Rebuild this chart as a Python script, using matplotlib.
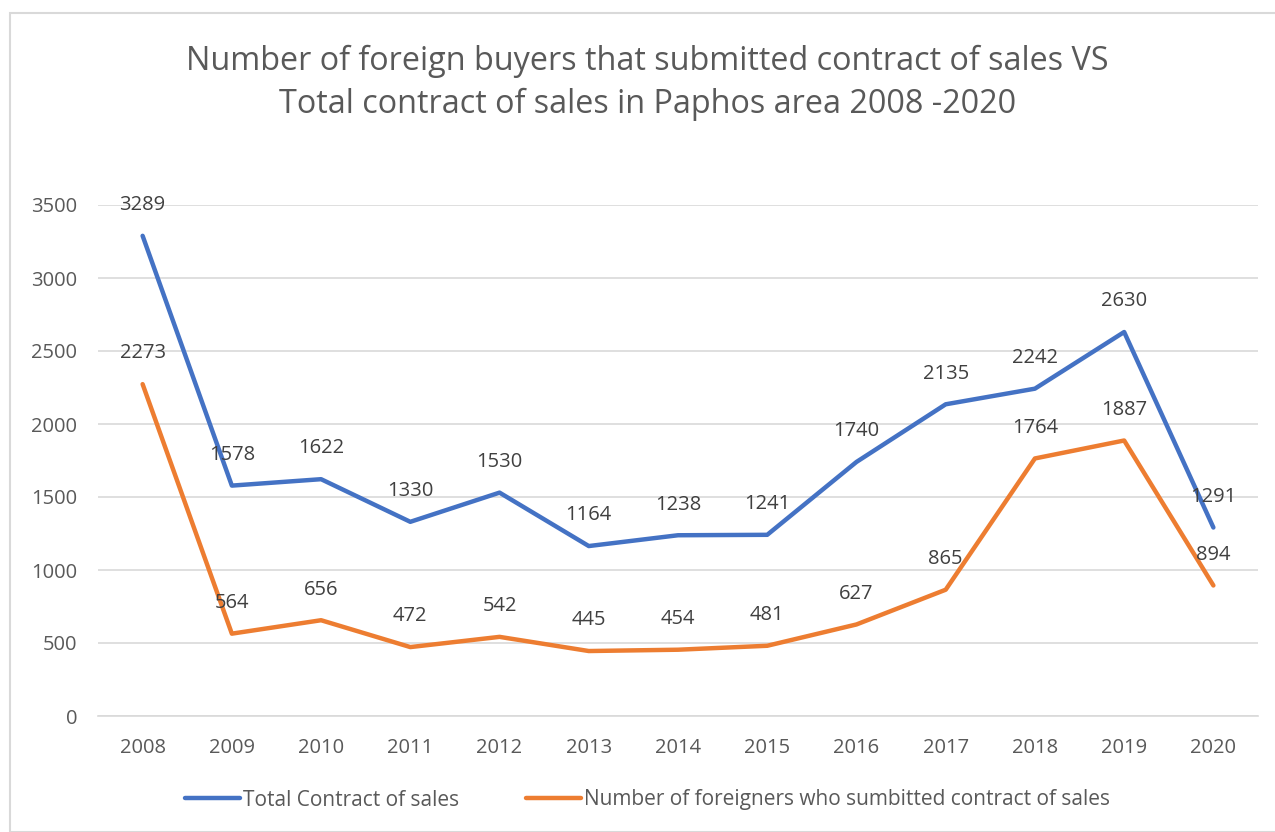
import matplotlib.pyplot as plt
from matplotlib.patches import Rectangle

years = ['2008', '2009', '2010', '2011', '2012', '2013', '2014',
         '2015', '2016', '2017', '2018', '2019', '2020']
total_sales = [3289, 1578, 1622, 1330, 1530, 1164, 1238, 1241, 1740, 2135, 2242, 2630, 1291]
foreign_sales = [2273, 564, 656, 472, 542, 445, 454, 481, 627, 865, 1764, 1887, 894]
yticks = [0, 500, 1000, 1500, 2000, 2500, 3000, 3500]

plt.rcParams['font.family'] = ['Open Sans', 'DejaVu Sans']

fig = plt.figure(figsize=(12.75, 8.32), dpi=100)
ax = fig.add_axes([98 / 1275, 1 - 716 / 832, (1258 - 98) / 1275, (716 - 205) / 832])

x = list(range(len(years)))
l1, = ax.plot(x, total_sales, color='#4472C4', lw=3.2, solid_capstyle='round', solid_joinstyle='round',
              label='Total Contract of sales')
l2, = ax.plot(x, foreign_sales, color='#ED7D31', lw=3.2, solid_capstyle='round', solid_joinstyle='round',
              label='Number of foreigners who sumbitted contract of sales')

# data labels above each point
for xi, v in zip(x, total_sales):
    ax.annotate(str(v), (xi, v), xytext=(0, 18.5), textcoords='offset points',
                ha='center', va='baseline', fontsize=14.5, color='#404040')
for xi, v in zip(x, foreign_sales):
    ax.annotate(str(v), (xi, v), xytext=(0, 18.5), textcoords='offset points',
                ha='center', va='baseline', fontsize=14.5, color='#404040')

ax.set_xlim(-0.5, len(years) - 0.5)
ax.set_ylim(0, 3500)
ax.set_yticks(yticks)
ax.set_xticks(x)
ax.set_xticklabels(years)
ax.grid(axis='y', color='#d9d9d9', lw=1.2)
ax.set_axisbelow(True)
for s in ['left', 'right', 'top']:
    ax.spines[s].set_visible(False)
ax.spines['bottom'].set_color('#d9d9d9')
ax.spines['bottom'].set_linewidth(1.2)
ax.tick_params(length=0, labelsize=14.5, colors='#595959', pad=16)
ax.tick_params(axis='y', pad=15)

fig.text(0.508, 1 - 83 / 832,
         'Number of foreign buyers that submitted contract of sales VS\nTotal contract of sales in Paphos area 2008 -2020',
         ha='center', va='center', fontsize=23.3, color='#595959', linespacing=1.38)

fig.legend(handles=[l1, l2], loc='center', bbox_to_anchor=(0.508, 1 - 800 / 832), ncol=2,
           frameon=False, fontsize=15, labelcolor='#595959', handlelength=2.65,
           handletextpad=0.15, columnspacing=3.2)

fig.add_artist(Rectangle((10 / 1275, 0), 1.1, 1 - 13 / 832, transform=fig.transFigure,
                         fill=False, edgecolor='#d9d9d9', lw=1.5))

fig.savefig('out.png', dpi=100)
